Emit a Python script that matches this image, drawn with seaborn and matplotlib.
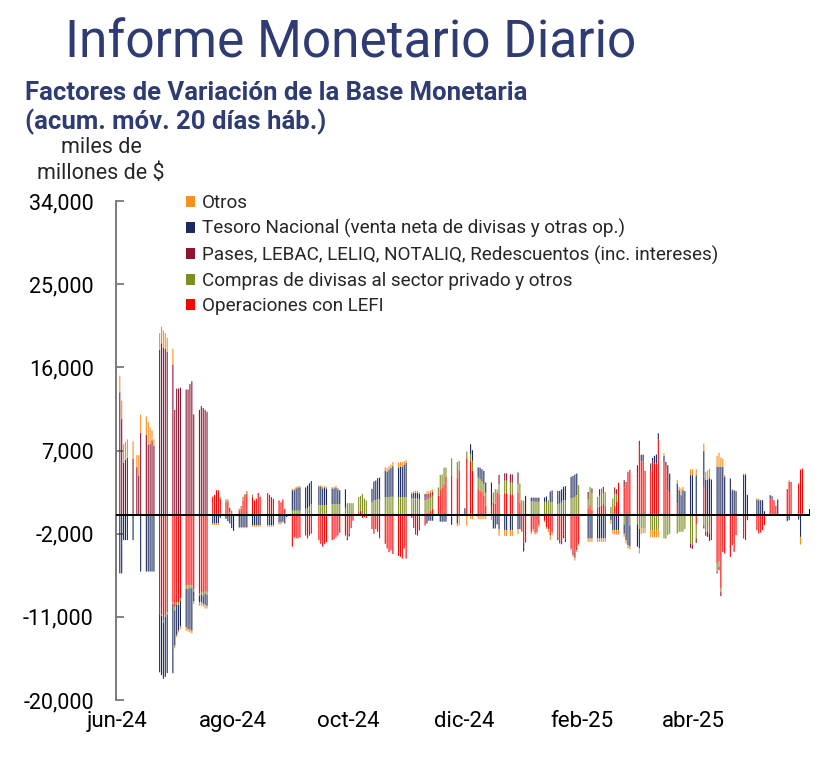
import numpy as np
import pandas as pd
import matplotlib
matplotlib.use("Agg")
import matplotlib.pyplot as plt
import matplotlib.dates as mdates
from matplotlib.patches import Patch
import seaborn as sns

# --- data: moving 20-business-day sums, miles de millones de $ (one value per business day) ---
dates = pd.bdate_range("2024-06-03", periods=260)

series_names = [
    "Operaciones con LEFI",
    "Compras de divisas al sector privado y otros",
    "Pases, LEBAC, LELIQ, NOTALIQ, Redescuentos (inc. intereses)",
    "Tesoro Nacional (venta neta de divisas y otras op.)",
    "Otros",
]

lefi = [
    0, 0, 0, 0, 0,
    0, 0, 0, 0, 0,
    0, 0, 0, 0, 0,
    -10800, -10700, -11400, -10800, -10500,
    -9400, -10000, -9400, -9400, -9000,
    -7600, -7600, -7600, -7600, -8000,
    -8500, -8300, -8400, -8200, -8300,
    2000, 2200, 2700, 2700, 1800,
    1400, 1500, 0, 0, 0,
    500, 700, 1600, 2200, 2300,
    1950, 1600, 1800, 2400, 2000,
    0, 2400, 2200, 1950, 1750,
    1600, 1400, 1700, 700, 0,
    -3400, -2400, -2500, -2500, -2400,
    -2200, -2500, -2200, -2000, 0,
    -2700, -3100, -3400, -3100, -2900,
    -2700, -2600, -2400, -2200, -1900,
    -2200, -2500, -2000, -1400, -600,
    300, 500, -300, -200, -300,
    -1500, -2000, -1500, -1800, -2500,
    -3100, -3600, -4000, -3800, -4200,
    -4400, -4500, -4700, -3600, -4700,
    -300, -1400, -2100, -2200, -1650,
    -1100, 200, 300, 500, 700,
    2100, 2800, 3000, 3350, 4150,
    4250, 0, 0, 4000, 4870,
    0, 6170, 0, 5880, 4800,
    2810, 2630, 2560, 2090, 1010,
    1010, 1370, 1260, 2450, 2270,
    2380, 2380, 0, 2270, 2270,
    2450, 1370, -1770, -2960, -2960,
    -1800, -1500, -1900, -1800, -1100,
    -600, -1300, -1500, -1900, -1900,
    -2300, -2600, -2700, -2100, -2500,
    -3400, -3900, -4000, -3400, -2800,
    0, 0, 720, 1080, 600,
    800, 900, 1000, 1200, 1000,
    0, 0, 1000, 1500, 3500,
    3000, 3400, 4500, 4700, 0,
    4500, 7500, 5840, 5800, 4800,
    4870, 5770, 5590, 5600, 8225,
    5770, 5230, 2705, 2500, 0,
    1260, 0, 0, 0, 0,
    0, 0, 0, -1000, 0,
    3065, 0, 0, 0, -2700,
    -5230, -5000, -7935, -3970, -4150,
    -4510, -3250, -3970, -2165, 0,
    -2525, -2705, -540, 0, 0,
    -1620, -1985, -1880, -1620, -1080,
    1800, 1800, 1620, 1010, 0,
    0, 0, 2500, 3610, 3610,
    0, 3430, 4940, 5050, 0,
]

compras = [
    0, 0, 0, 0, 0,
    0, 0, 0, 0, 0,
    0, 0, 0, 0, 0,
    0, -200, -200, -200, -300,
    -200, -300, -300, -300, -300,
    -400, -400, -300, -300, -300,
    -200, -300, -300, -300, -300,
    0, 0, 0, 0, 200,
    300, 200, 300, 500, 0,
    200, 300, 400, 100, 300,
    250, 0, 0, 0, 0,
    0, 0, 0, 0, 0,
    0, 0, 0, 0, 100,
    500, 500, 500, 500, 500,
    700, 750, 950, 1200, 0,
    1100, 1100, 1100, 1100, 1100,
    1200, 1200, 1200, 1200, 1200,
    800, 1300, 1300, 1300, 1300,
    1650, 1600, 2300, 1800, 1600,
    1400, 1600, 1650, 1750, 1750,
    1950, 1950, 1950, 2000, 2000,
    1950, 1950, 1950, 1950, 1950,
    1800, 1800, 1800, 1800, 1700,
    1600, 1500, 1500, 1400, 1400,
    900, 1550, 1400, 1800, 1000,
    1900, 0, 0, 1750, 1000,
    0, 720, 0, 720, 1080,
    1265, 1260, 1080, 1260, 1440,
    0, 1080, 1550, 200, 1085,
    1350, 1350, 0, 1250, 1250,
    900, 2060, 1620, 1550, 0,
    1500, 1500, 1450, 1450, 1450,
    1450, 1450, 1590, 1450, 1400,
    1190, 1260, 1440, 1620, 1620,
    1800, 1875, 1985, 2165, 3250,
    0, 0, 1000, 1985, 1800,
    1185, 1200, 1885, 1200, 1500,
    900, 1800, 1300, 800, 0,
    -1000, 0, 0, -1100, 0,
    -1000, -1450, -1450, -1450, -1450,
    -1600, -1600, -1600, -1600, -1600,
    -2525, -2525, -2165, -2000, 0,
    -1985, -1800, -1800, -1800, -1500,
    -3065, -3245, 0, -1500, 0,
    -1080, -1800, -1800, -2000, 0,
    -900, -600, -365, 0, 0,
    0, 0, 0, 0, 0,
    0, 0, 0, 0, 0,
    0, 0, 0, 0, 0,
    0, 0, 0, 0, 0,
    0, 0, 0, 0, 0,
    0, 0, 0, 0, 0,
]

pases = [
    13300, 10400, 5700, 6000, 6200,
    6100, 0, 5200, 4300, 8900,
    8700, 7600, 7700, 8100, 7500,
    17900, 18600, 18100, 18000, 17700,
    16300, 11400, 13700, 13700, 13800,
    13600, 13600, 14200, 14500, 10900,
    11400, 11800, 11600, 11400, 11200,
    0, 0, 0, 0, 0,
    0, 0, 500, 0, 0,
    0, 0, 0, 0, 0,
    0, 0, 0, 0, 0,
    0, 0, 0, 0, 0,
    0, 0, 0, 0, 0,
    0, 0, 0, 0, 0,
    0, 0, 0, 0, 0,
    0, 0, 0, 0, 0,
    0, 0, 0, 0, 0,
    0, 0, 0, 0, 0,
    0, 0, 0, 0, 0,
    0, 0, 0, 0, 0,
    0, 0, 0, 0, 0,
    0, 0, 0, 0, 0,
    0, 0, 0, 0, 0,
    300, 600, 500, 500, 400,
    0, 0, 0, 0, 0,
    0, 0, 0, 0, 0,
    0, 0, 0, 0, 0,
    0, 0, 0, 0, 0,
    0, 0, 0, 0, 1010,
    800, 800, 0, 900, 900,
    1270, 0, 0, 0, 0,
    0, 0, 0, 0, 0,
    0, 0, 0, -300, 0,
    -400, -450, -450, -400, -400,
    -200, -400, -600, -400, -300,
    0, 0, 800, 0, 500,
    0, 710, 0, 665, 0,
    0, 0, 700, 500, 0,
    790, 200, 200, 200, 0,
    900, 550, 0, 0, 0,
    0, 0, 0, 0, 0,
    0, 0, 0, 0, 0,
    0, 0, 0, 0, 0,
    -470, -400, 0, -500, 0,
    -360, -440, -550, -800, 0,
    -180, -350, -465, 0, 0,
    0, 0, 0, 0, 0,
    0, 0, 0, 0, 0,
    0, 0, 0, 0, 0,
    0, 0, 0, 0, 0,
    0, 0, 315, 0, 0,
    0, 0, 0, 0, 0,
]

tesoro = [
    -6300, -6300, -2700, -2700, -2700,
    -2700, 0, 0, 0, -6100,
    -6100, -6100, -6100, -6100, -6100,
    -6200, -6400, -6100, -6500, -6300,
    -7500, -3800, -3300, -2800, -2700,
    -4100, -4300, -4500, -4600, -1000,
    -700, -800, -900, -1200, -1200,
    -900, -900, -900, -900, -300,
    -400, -650, -900, -1400, -1700,
    -1300, -1300, -1300, -1300, -1300,
    -1100, -1100, -1100, -1100, -1100,
    0, -1100, -1100, -1100, -1100,
    -800, -800, -700, -900, -200,
    2200, 2200, 2400, 2500, 2500,
    2300, 2450, 2500, 2500, 0,
    2000, 2000, 1800, 1900, 1800,
    1700, 1700, 1800, 1600, 1500,
    2000, -200, -300, 0, 0,
    0, 0, 0, 0, 0,
    1450, 2050, 2100, 2250, 2300,
    2850, 2750, 2950, 3100, 3300,
    3200, 3300, 3300, 3500, 3700,
    500, 600, 600, 600, 600,
    400, -900, -600, -600, -600,
    0, -700, -700, -700, -700,
    -1050, 0, 0, -900, 0,
    760, 0, 0, 1080, 1150,
    1085, 1260, 1340, 1440, 1080,
    2525, -1440, -1440, -1000, -1515,
    -1600, -1600, 0, -1600, -1600,
    -1515, -1515, 0, -970, 2090,
    400, 400, 450, 450, 450,
    460, 570, 0, 1110, 1270,
    1440, 1370, 1370, 1445, 1520,
    2350, 2380, 2415, 2345, 0,
    0, 0, -2525, -2525, -2525,
    -2525, -2525, -2525, -2525, -2525,
    -550, -1600, -1600, -1600, -1600,
    -1000, -2700, -3250, -2300, 0,
    -2400, -2150, 700, 750, 0,
    720, 430, 830, 965, 645,
    650, 540, 2705, 2000, 0,
    2170, 2700, 2165, 2705, 2600,
    4330, 4330, 0, 4330, 0,
    3860, 3860, 3860, 4000, 3860,
    5230, 5230, 5230, 5230, 4150,
    3970, 2700, 2700, 2600, 0,
    4400, 4400, 2200, 0, 0,
    1700, 1620, 1620, 1620, 430,
    365, 250, 0, 0, 1700,
    0, 0, -650, -540, 0,
    0, -470, -2345, 0, 0,
]

otros = [
    1800, 2000, 2000, 1900, 2000,
    1900, 0, 1300, 2200, 2000,
    2000, 2500, 1800, 1100, 700,
    1800, 1800, 1900, 1700, 1500,
    1700, -300, -200, -200, -300,
    -400, -300, -300, -300, -300,
    -400, -400, -300, -400, -300,
    -150, -150, -150, -150, 0,
    0, 0, 0, 0, 0,
    -100, -100, -100, -100, -100,
    -150, -150, -150, -150, -150,
    0, -150, -150, -150, -150,
    -200, -200, -100, 0, 0,
    150, 150, 150, 150, 150,
    0, 0, 0, 0, 0,
    150, 150, 200, 150, 150,
    150, 150, 200, 150, 0,
    0, 0, 0, 0, 0,
    0, 0, 0, 0, 0,
    0, 0, 0, 0, 100,
    400, 400, 400, 350, 450,
    550, 500, 500, 400, 300,
    200, 200, 250, 250, 200,
    0, 300, 300, 300, 300,
    0, 0, 0, 0, 0,
    0, 0, 0, -300, -1100,
    0, -1150, 0, -400, -430,
    -430, -430, -430, -430, -430,
    -540, 0, 0, 160, -720,
    -650, -650, 0, -650, -650,
    -540, 0, 0, 0, 0,
    -250, -250, -200, -200, -200,
    -160, -180, -340, -480, -300,
    0, 0, 0, 0, 0,
    -200, -200, -300, -200, -200,
    0, 0, -360, -360, -360,
    -360, -360, -360, -360, -360,
    -400, -400, -500, -500, -500,
    -350, -350, -350, -300, 0,
    0, -550, -600, -500, -500,
    -800, -800, -800, -800, -800,
    325, 0, 0, 0, 0,
    360, 360, 720, 360, 0,
    610, 650, 0, 650, 0,
    830, 830, 1000, 1050, 0,
    1190, 1515, 1010, 900, 200,
    0, 115, 0, 0, 0,
    110, 110, 0, 0, 0,
    100, 180, 0, 0, 0,
    0, 0, 0, 0, 0,
    0, 0, 0, 180, 0,
    0, 0, -830, 0, 0,
]

month_ticks = ["2024-06-01", "2024-08-01", "2024-10-01", "2024-12-01", "2025-02-01", "2025-04-01"]
month_labels = ["jun-24", "ago-24", "oct-24", "dic-24", "feb-25", "abr-25"]
y_ticks = [-20000, -11000, -2000, 7000, 16000, 25000, 34000]

# --- style ---
colors = ["#FF0000", "#7F8C1E", "#8C1631", "#1C2B5E", "#F7901E"]
navy_title = "#2F3C74"

sns.set_theme(style="white")
plt.rcParams["font.family"] = ["Roboto", "DejaVu Sans"]

fig = plt.figure(figsize=(8.35, 7.78), dpi=100)
ax = fig.add_axes([116 / 835, 1 - 700 / 778, (810 - 116) / 835, (700 - 201) / 778])

xnum = mdates.date2num(dates)
values = np.array([lefi, compras, pases, tesoro, otros], dtype=float)
pos = np.clip(values, 0, None)
neg = np.clip(values, None, 0)
pos_base = np.vstack([np.zeros(len(xnum)), np.cumsum(pos, axis=0)[:-1]])
neg_base = np.vstack([np.zeros(len(xnum)), np.cumsum(neg, axis=0)[:-1]])

# stacked columns: positives above zero, negatives below, LEFI closest to the axis
for k in range(len(series_names)):
    for part, base in ((pos, pos_base), (neg, neg_base)):
        sns.barplot(x=xnum, y=part[k], bottom=base[k], native_scale=True, orient="x",
                    color=colors[k], saturation=1, width=0.58, errorbar=None,
                    linewidth=0, edgecolor="none", snap=False, ax=ax)

x0 = mdates.date2num(pd.Timestamp("2024-06-01"))
x1 = mdates.date2num(pd.Timestamp("2025-06-02"))
ax.set_xlim(x0, x1)
ax.set_ylim(-20000, 34000)

ax.axhline(0, color="black", lw=1.4, zorder=5)
ax.vlines([x1], 0, 700, color="black", lw=1.4, zorder=5)

sns.despine(ax=ax, bottom=True)
ax.spines["left"].set_color("#7a7a7a")
ax.spines["left"].set_linewidth(1.4)

ax.set_yticks(y_ticks)
ax.set_yticklabels([f"{v:,}" for v in y_ticks])
ax.tick_params(axis="y", direction="in", length=6, width=1.3, color="#7a7a7a",
               pad=16, labelsize=15.5, labelcolor="black", left=True)
ax.set_xticks(mdates.date2num(pd.to_datetime(month_ticks)) + 0.7)
ax.set_xticklabels(month_labels)
ax.tick_params(axis="x", length=0, pad=8, labelsize=16, labelcolor="black")
ax.set_xlabel("")
ax.set_ylabel("")
ax.grid(False)

# --- texts ---
fig.text(65 / 835, 1 - 58 / 778, "Informe Monetario Diario", fontsize=37,
         color=navy_title, va="baseline", ha="left")
fig.text(25 / 835, 1 - 100 / 778, "Factores de Variación de la Base Monetaria",
         fontsize=18.5, fontweight="bold", color=navy_title, va="baseline", ha="left")
fig.text(25 / 835, 1 - 129 / 778, "(acum. móv. 20 días háb.)",
         fontsize=18.5, fontweight="bold", color=navy_title, va="baseline", ha="left")
fig.text(101 / 835, 1 - 153 / 778, "miles de", fontsize=15.5, ha="center", va="baseline")
fig.text(101 / 835, 1 - 179 / 778, "millones de $", fontsize=15.5, ha="center", va="baseline")

handles = [Patch(facecolor=colors[k], edgecolor="none") for k in range(len(series_names) - 1, -1, -1)]
labels = [series_names[k] for k in range(len(series_names) - 1, -1, -1)]
fig.legend(handles, labels, loc="upper left", bbox_to_anchor=(186 / 835, 1 - 194 / 778),
           frameon=False, fontsize=13.6, handlelength=0.5, handleheight=0.5,
           handletextpad=0.35, labelspacing=0.38, borderpad=0, borderaxespad=0)

fig.savefig("out.png", dpi=100)
